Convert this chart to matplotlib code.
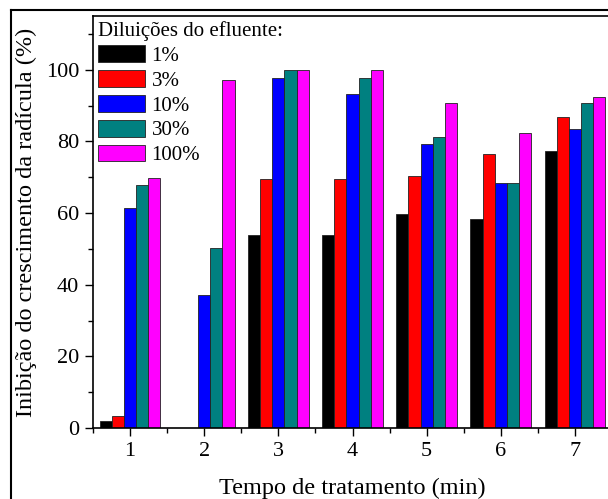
import numpy as np
import matplotlib
matplotlib.use('Agg')
import matplotlib.pyplot as plt
from matplotlib.lines import Line2D
from matplotlib.ticker import MultipleLocator

plt.rcParams['font.family'] = ['Liberation Serif', 'DejaVu Serif']

tempos = [1, 2, 3, 4, 5, 6, 7]
diluicoes = ['1%', '3%', '10%', '30%', '100%']
cores = ['#000000', '#ff0000', '#0000ff', '#008080', '#ff00ff']

d1 = [2.0, 0, 53.9, 53.9, 59.8, 58.3, 77.3]
d3 = [3.4, 0, 69.6, 69.5, 70.3, 76.4, 86.8]
d10 = [61.4, 37.2, 97.7, 93.2, 79.2, 68.4, 83.5]
d30 = [67.7, 50.3, 100.0, 97.6, 81.2, 68.4, 90.7]
d100 = [69.9, 97.2, 100.0, 99.9, 90.8, 82.4, 92.3]
series = [d1, d3, d10, d30, d100]

fig = plt.figure(figsize=(6.08, 4.99), dpi=100)
# moldura externa (cortada a direita e embaixo, como na imagem)
fig.add_artist(Line2D([11/608, 11/608], [0, 1 - 10/499], color='black', lw=1.5))
fig.add_artist(Line2D([11/608, 1], [1 - 10/499, 1 - 10/499], color='black', lw=1.5))

ax = fig.add_axes([93/608, 71/499, 519/608, 412/499])

x = np.array(tempos)
w = 0.164
for i, (vals, cor, lab) in enumerate(zip(series, cores, diluicoes)):
    ax.bar(x + (i - 2) * w, vals, w, color=cor, edgecolor='#222222', linewidth=0.6, label=lab)

ax.set_xlim(0.5, 7.5)
ax.set_ylim(0, 115)
ax.set_xticks(tempos)
ax.yaxis.set_major_locator(MultipleLocator(20))
ax.yaxis.set_minor_locator(MultipleLocator(10))
ax.xaxis.set_minor_locator(MultipleLocator(0.5))
ax.tick_params(which='major', direction='out', length=6, width=1, labelsize=16, pad=4)
ax.tick_params(which='minor', direction='out', length=3.5, width=1)
for s in ax.spines.values():
    s.set_linewidth(1.2)

ax.set_xlabel('Tempo de tratamento (min)', fontsize=17.5, labelpad=12)
ax.set_ylabel('Inibição do crescimento da radícula (%)', fontsize=17.5, labelpad=6)

leg = ax.legend(title='Diluições do efluente:', loc='upper left', frameon=False,
                fontsize=15, title_fontsize=15, handlelength=2.26, handleheight=0.87,
                labelspacing=0.2, handletextpad=0.3, borderaxespad=0.1,
                borderpad=0.15)
leg._legend_box.align = 'left'

fig.savefig('out.png', dpi=100)
